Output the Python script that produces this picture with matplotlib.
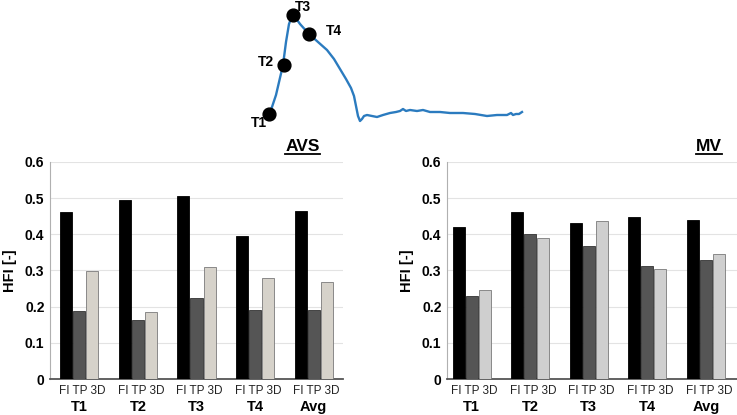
import numpy as np
import matplotlib
matplotlib.use("Agg")
import matplotlib.pyplot as plt

plt.rcParams['font.family'] = ['Liberation Sans', 'DejaVu Sans']

# bar data
groups = ["T1", "T2", "T3", "T4", "Avg"]
methods = "FI TP 3D"
avs_fi = [0.462, 0.495, 0.507, 0.395, 0.465]
avs_tp = [0.188, 0.162, 0.223, 0.190, 0.192]
avs_3d = [0.300, 0.185, 0.309, 0.280, 0.268]
mv_fi = [0.420, 0.463, 0.432, 0.447, 0.441]
mv_tp = [0.230, 0.402, 0.368, 0.312, 0.328]
mv_3d = [0.245, 0.391, 0.438, 0.305, 0.346]

# waveform sketch (pixel coords)
wave_x = [270, 276, 283, 286, 289, 292, 295, 300, 309, 318, 327, 334, 340, 346, 351,
          354, 356, 358, 360, 362, 364, 367, 372, 377, 383, 390, 396, 400, 403, 406,
          410, 417, 423, 430, 440, 450, 463, 475, 487, 497, 507, 511, 513, 516, 519, 522]
wave_y = [113, 95, 65, 42, 24, 16, 17, 24, 34, 42, 50, 59, 69, 79, 88,
          96, 106, 116, 121, 119, 116, 115, 116, 117, 115, 113, 112, 111, 109, 111,
          110, 111, 110, 112, 112, 113, 113, 114, 116, 115, 115, 113, 115, 114, 114, 112]
pt_names = ["T1", "T2", "T3", "T4"]
pt_x = [269, 284, 293, 309]
pt_y = [114, 65, 15, 34]
lab_x = [259, 266, 303, 334]
lab_y = [123, 62, 7, 31]

W, H = 737, 415
fig = plt.figure(figsize=(W / 100, H / 100), dpi=100)


def px_axes(l, t, r, b):
    return fig.add_axes([l / W, 1 - b / H, (r - l) / W, (b - t) / H])


# top inset
axw = px_axes(0, 0, W, 140)
axw.set_xlim(0, W)
axw.set_ylim(140, 0)
axw.axis("off")
axw.plot(wave_x, wave_y, color="#2b7bbf", lw=1.7, zorder=1)
axw.scatter(pt_x, pt_y, s=85, color="black", zorder=2)
for n, x, y in zip(pt_names, lab_x, lab_y):
    axw.text(x, y, n, ha="center", va="center", fontsize=10, fontweight="bold")


def bar_panel(ax, fi, tp, three, light, title, title_x, xlim):
    x = np.arange(1, len(groups) + 1)
    w = 0.205
    off = 0.222
    ax.bar(x - off, fi, w, color="black", edgecolor="black", lw=0.6, zorder=3)
    ax.bar(x, tp, w, color="#555555", edgecolor="#333333", lw=0.6, zorder=3)
    ax.bar(x + off, three, w, color=light, edgecolor="#7a7a7a", lw=0.6, zorder=3)
    ax.set_ylim(0, 0.6)
    ax.set_xlim(*xlim)
    ax.set_yticks(np.arange(0, 0.61, 0.1))
    ax.set_yticklabels(["0", "0.1", "0.2", "0.3", "0.4", "0.5", "0.6"],
                       fontsize=10, fontweight="bold")
    ax.yaxis.grid(True, color="#e3e3e3", lw=0.8, zorder=0)
    ax.set_axisbelow(True)
    ax.set_xticks(x + 0.05)
    ax.set_xticklabels([methods] * len(x), fontsize=8.5, color="#222222")
    ax.tick_params(axis="both", length=0, pad=4)
    for s in ["top", "right"]:
        ax.spines[s].set_visible(False)
    ax.spines["left"].set_color("#b0b0b0")
    ax.spines["bottom"].set_color("#555555")
    ax.spines["bottom"].set_linewidth(1.3)
    ax.set_ylabel("HFI [-]", fontsize=10.5, fontweight="bold", labelpad=6)
    tr = ax.get_xaxis_transform()
    for xi, g in zip(x, groups):
        ax.text(xi, -0.13, g, transform=tr, ha="center", va="center",
                fontsize=10.5, fontweight="bold")
    t = ax.text(title_x, 1.035, title, transform=ax.transAxes, ha="right", va="bottom",
                fontsize=12.5, fontweight="bold")
    fig.canvas.draw()
    bb = t.get_window_extent().transformed(ax.transAxes.inverted())
    ax.plot([bb.x0, bb.x1], [bb.y0 + 0.004, bb.y0 + 0.004], transform=ax.transAxes,
            color="black", lw=1.3, clip_on=False)


ax1 = px_axes(50, 162, 343, 379)
bar_panel(ax1, avs_fi, avs_tp, avs_3d, "#d6d2ca", "AVS", 0.92, (0.5, 5.5))

ax2 = px_axes(447, 162, 737, 379)
bar_panel(ax2, mv_fi, mv_tp, mv_3d, "#cfcfcf", "MV", 0.948, (0.58, 5.53))

fig.savefig("out.png", dpi=100)
